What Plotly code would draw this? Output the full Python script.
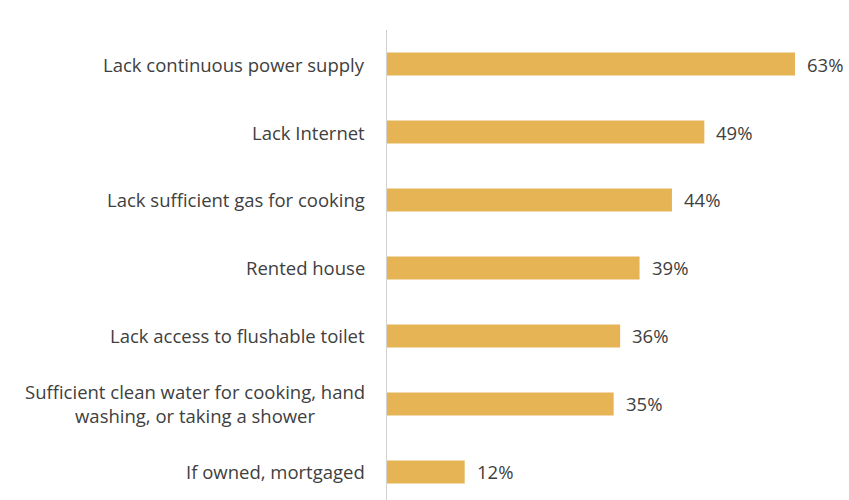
import plotly.graph_objects as go

categories = [
    "Lack continuous power supply",
    "Lack Internet",
    "Lack sufficient gas for cooking",
    "Rented house",
    "Lack access to flushable toilet",
    "Sufficient clean water for cooking, hand<br>washing, or taking a shower",
    "If owned, mortgaged",
]
values = [63, 49, 44, 39, 36, 35, 12]
value_labels = [f"{v}%" for v in values]

positions = list(range(len(categories)))
bar_color = "#E6B454"
text_color = "#404040"
font_family = "'Open Sans', sans-serif"
font_size = 18.5

fig = go.Figure(
    go.Bar(
        x=values,
        y=positions,
        orientation="h",
        width=0.34,
        marker=dict(color=bar_color, line=dict(width=0)),
        hoverinfo="skip",
    )
)

annotations = []
for pos, cat in zip(positions, categories):
    annotations.append(dict(
        x=0, y=pos, xref="x", yref="y", text=cat, showarrow=False,
        xanchor="right", yanchor="middle", align="center", xshift=-20,
        font=dict(family=font_family, size=font_size, color=text_color),
    ))
for pos, val, lab in zip(positions, values, value_labels):
    annotations.append(dict(
        x=val, y=pos, xref="x", yref="y", text=lab, showarrow=False,
        xanchor="left", yanchor="middle", xshift=10,
        font=dict(family=font_family, size=font_size, color=text_color),
    ))

fig.update_layout(
    width=849,
    height=500,
    margin=dict(l=387, r=0, t=30, b=0),
    paper_bgcolor="white",
    plot_bgcolor="white",
    showlegend=False,
    annotations=annotations,
    xaxis=dict(range=[0, 71.34], visible=False, fixedrange=True),
    yaxis=dict(
        range=[6.412, -0.5],
        showticklabels=False,
        showgrid=False,
        zeroline=False,
        showline=True,
        linecolor="#D0D0D0",
        linewidth=1,
        ticks="",
        fixedrange=True,
    ),
)

fig.write_html("out.html")
